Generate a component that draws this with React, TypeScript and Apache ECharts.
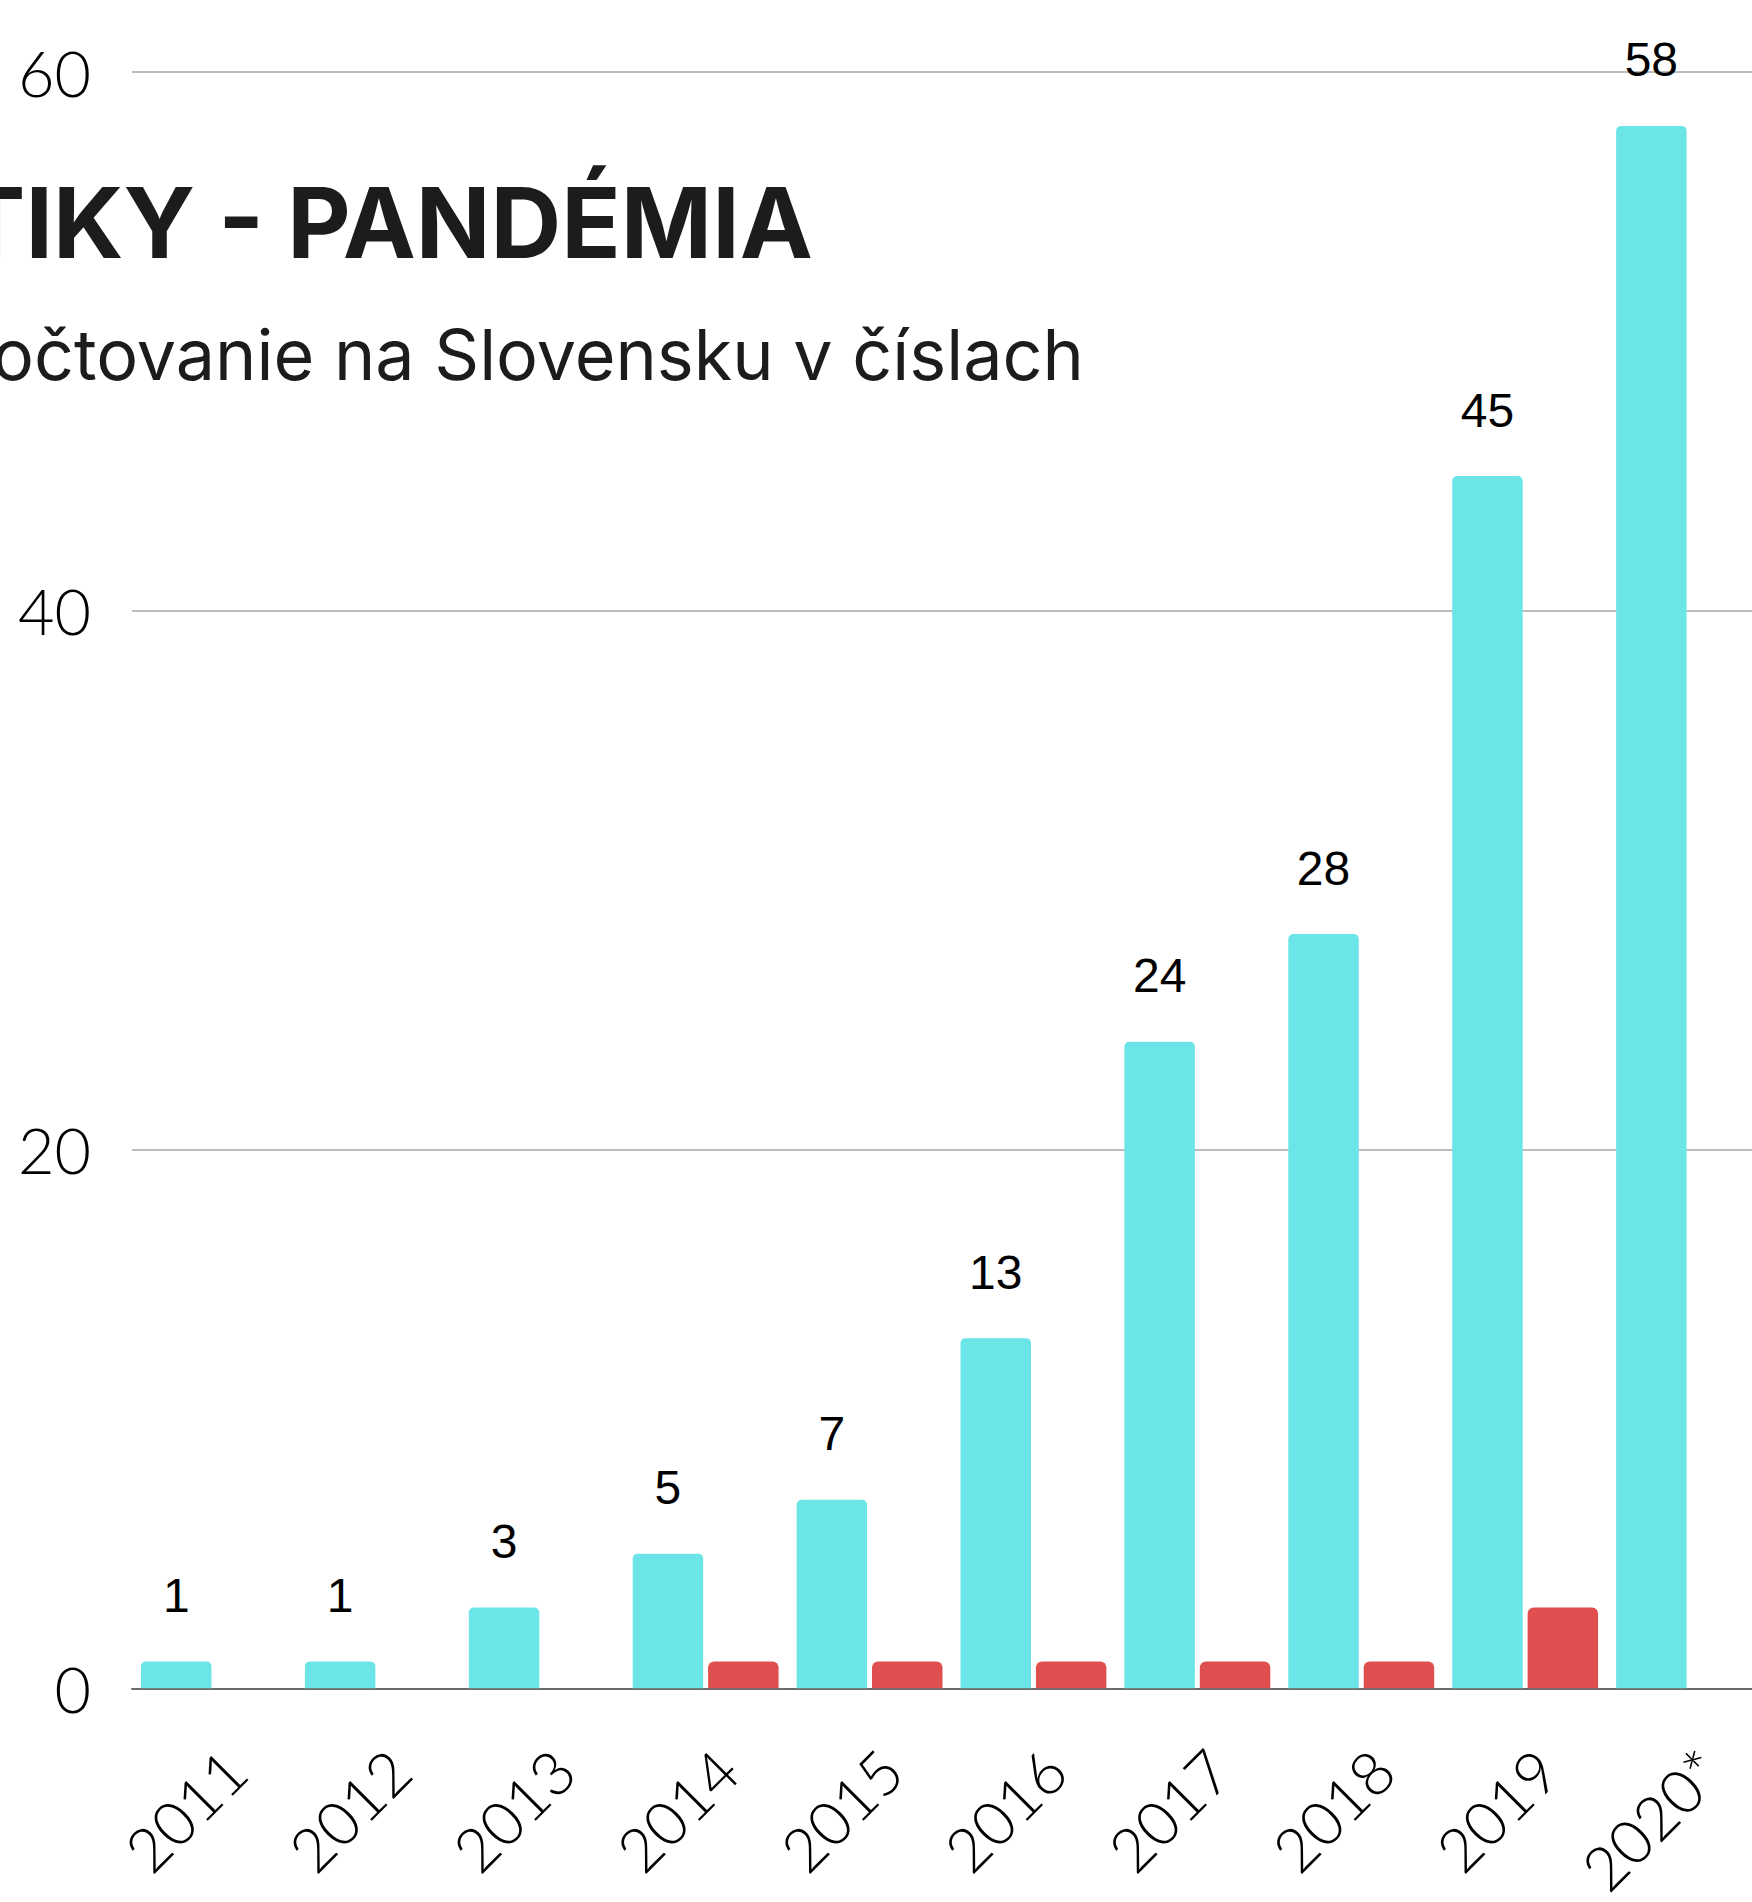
import React, { useEffect, useRef } from "react";
import * as echarts from "echarts";

const categories = ["2011", "2012", "2013", "2014", "2015", "2016", "2017", "2018", "2019", "2020*"];
const cyanValues = [1, 1, 3, 5, 7, 13, 24, 28, 45, 58];
const redValues = [null, null, null, 1, 1, 1, 1, 1, 3, null];
const yTicks = [0, 20, 40, 60];
const titleText = "TIKY - PANDÉMIA";
const subtitleText = "očtovanie na Slovensku v číslach";

export default function App() {
  const ref = useRef<HTMLDivElement>(null);
  useEffect(() => {
    if (!ref.current) return;
    const chart = echarts.init(ref.current, null, { renderer: "svg" });
    chart.setOption({
      animation: false,
      backgroundColor: "#ffffff",
      grid: { left: 132, right: 0, top: 72, bottom: 210, containLabel: false },
      graphic: [
        {
          type: "text",
          x: -40,
          y: 222,
          style: {
            text: titleText,
            fontFamily: "Inter",
            fontWeight: "bold",
            fontSize: 98,
            fill: "#1c1c1c",
            verticalAlign: "middle",
          },
        },
        {
          type: "text",
          x: -8,
          y: 354,
          style: {
            text: subtitleText,
            fontFamily: "Inter",
            fontSize: 70,
            fill: "#1c1c1c",
            verticalAlign: "middle",
          },
        },
      ],
      xAxis: {
        type: "category",
        data: categories,
        axisTick: { show: false },
        axisLine: { show: true, lineStyle: { color: "#6b6b6b", width: 2 } },
        axisLabel: {
          rotate: 45,
          margin: 50,
          verticalAlign: "top",
          color: "#000",
          fontFamily: "Lato",
          fontWeight: 300,
          fontSize: 61,
          interval: 0,
        },
      },
      yAxis: {
        type: "value",
        min: yTicks[0],
        max: yTicks[yTicks.length - 1],
        interval: 20,
        axisLine: { show: false },
        axisTick: { show: false },
        splitLine: { lineStyle: { color: "#bdbdbd", width: 2 } },
        axisLabel: {
          margin: 41,
          color: "#000",
          fontFamily: "Lato",
          fontWeight: 300,
          fontSize: 63,
        },
      },
      series: [
        {
          type: "bar",
          data: cyanValues,
          barGap: "7%",
          barCategoryGap: "11%",
          itemStyle: { color: "#6ce5e8", borderRadius: [5, 5, 0, 0] },
          label: {
            show: true,
            position: "top",
            distance: 42,
            color: "#000",
            fontFamily: "Liberation Sans",
            fontSize: 48,
          },
        },
        {
          type: "bar",
          data: redValues,
          itemStyle: { color: "#e04f4f", borderRadius: [6, 6, 0, 0] },
        },
      ],
    });
    return () => chart.dispose();
  }, []);
  return (
    <div style={{ position: "fixed", left: 0, top: 0, width: 1752, height: 1902, overflow: "hidden", background: "#fff" }}>
      <div ref={ref} style={{ width: 1771, height: 1902 }} />
    </div>
  );
}
